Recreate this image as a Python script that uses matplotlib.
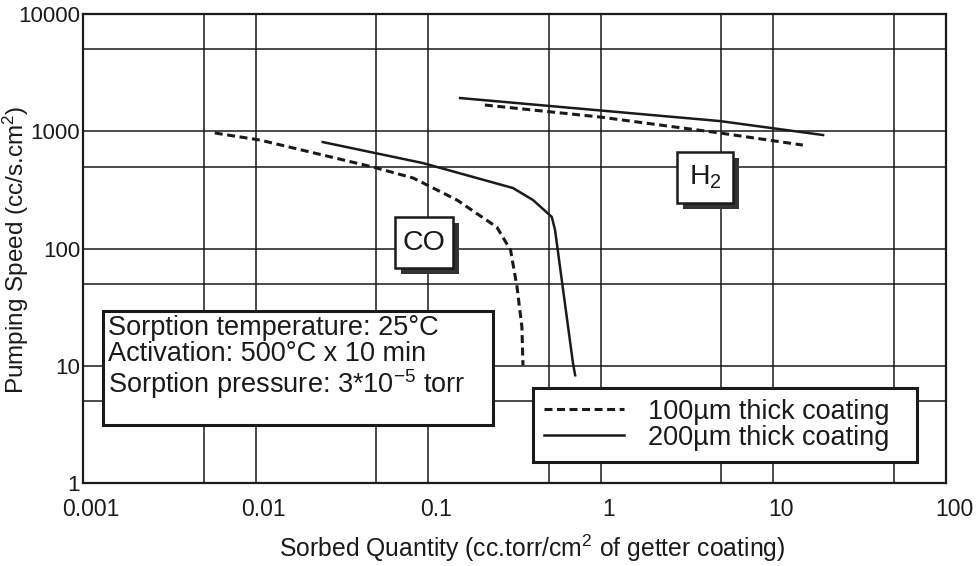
import numpy as np
import matplotlib.pyplot as plt
import matplotlib.transforms as mtransforms
from matplotlib.patches import Rectangle
from matplotlib.ticker import FixedLocator, NullFormatter

plt.rcParams['font.family'] = ['Liberation Sans', 'DejaVu Sans']
plt.rcParams['mathtext.fontset'] = 'custom'
plt.rcParams['mathtext.rm'] = 'Liberation Sans'
plt.rcParams['mathtext.it'] = 'Liberation Sans:italic'

# values
co_100_x = [0.0058, 0.0106, 0.048, 0.082, 0.147, 0.25, 0.30, 0.327, 0.349, 0.354]
co_100_y = [967, 842, 495, 399, 259, 152, 97, 47, 21.4, 10.1]
co_200_x = [0.0245, 0.093, 0.31, 0.405, 0.52, 0.543, 0.69, 0.71]
co_200_y = [809, 536, 328, 259, 186, 144, 10.5, 8.3]
h2_100_x = [0.213, 0.99, 4.9, 14.8]
h2_100_y = [1675, 1323, 967, 763]
h2_200_x = [0.153, 4.9, 19.4]
h2_200_y = [1921, 1222, 929]

x_ticks = [0.001, 0.01, 0.1, 1, 10, 100]
x_ticklabels = ['0.001', '0.01', '0.1', '1', '10', '100']
x_minor = [0.005, 0.05, 0.5, 5, 50]
y_ticks = [1, 10, 100, 1000, 10000]
y_ticklabels = ['1', '10', '100', '1000', '10000']
y_minor = [5, 50, 500, 5000]

legend_labels = ['100\u00b5m thick coating', '200\u00b5m thick coating']
info_text = ('Sorption temperature: 25\u00b0C\n'
             'Activation: 500\u00b0C x 10 min\n'
             'Sorption pressure: 3*10$^{\\mathregular{-5}}$ torr')

ink = '#1a1a1a'
dash = (2.6, 1.5)

fig = plt.figure(figsize=(9.79, 5.66), dpi=100)
ax = fig.add_axes([0.0848, 0.1466, 0.8815, 0.8286])
ax.set_xscale('log')
ax.set_yscale('log')
ax.set_xlim(0.001, 100)
ax.set_ylim(1, 10000)

ax.set_xticks(x_ticks)
ax.set_xticklabels(x_ticklabels)
ax.set_yticks(y_ticks)
ax.set_yticklabels(y_ticklabels)
ax.xaxis.set_minor_locator(FixedLocator(x_minor))
ax.yaxis.set_minor_locator(FixedLocator(y_minor))
ax.xaxis.set_minor_formatter(NullFormatter())
ax.yaxis.set_minor_formatter(NullFormatter())
ax.tick_params(which='both', length=0)
ax.tick_params(axis='x', labelsize=16.5, pad=11, colors=ink)
ax.tick_params(axis='y', labelsize=16, pad=2, colors=ink)
# the scanned labels sit a little right of their grid lines
shift = mtransforms.ScaledTranslation(8 / 100, 0, fig.dpi_scale_trans)
for lab in ax.get_xticklabels():
    lab.set_transform(lab.get_transform() + shift)
ax.grid(True, which='both', color=ink, lw=1.1)
ax.set_axisbelow(True)
for s in ax.spines.values():
    s.set_linewidth(1.6)
    s.set_color(ink)

l100, = ax.plot(co_100_x, co_100_y, color=ink, lw=2.2, ls=(0, dash), zorder=3)
l200, = ax.plot(co_200_x, co_200_y, color=ink, lw=1.8, zorder=3)
ax.plot(h2_100_x, h2_100_y, color=ink, lw=2.2, ls=(0, dash), zorder=3)
ax.plot(h2_200_x, h2_200_y, color=ink, lw=1.8, zorder=3)

ax.set_xlabel('Sorbed Quantity (cc.torr/cm$^{2}$ of getter coating)', fontsize=17.8, va='center', color=ink)
ax.xaxis.set_label_coords(0.5203, -0.1386)
ax.set_ylabel('Pumping Speed (cc/s.cm$^{2}$)', fontsize=17.5, va='center', color=ink)
ax.yaxis.set_label_coords(-0.0775, 0.497)


def shadow_box(x0, y0, w, h, text, size):
    ax.add_patch(Rectangle((x0 + 0.0065, y0 - 0.012), w, h, transform=ax.transAxes,
                           facecolor='#333333', edgecolor='none', zorder=5))
    ax.add_patch(Rectangle((x0, y0), w, h, transform=ax.transAxes,
                           facecolor='white', edgecolor=ink, lw=1.8, zorder=6))
    ax.text(x0 + w / 2, y0 + h / 2, text, transform=ax.transAxes, fontsize=size,
            ha='center', va='center', color=ink, zorder=7)


shadow_box(0.3615, 0.4584, 0.0672, 0.1088, 'CO', 20.5)
shadow_box(0.6883, 0.5970, 0.0649, 0.1088, 'H$_2$', 20.5)

# conditions box
ax.add_patch(Rectangle((0.0232, 0.1237), 0.4519, 0.2430, transform=ax.transAxes,
                       facecolor='white', edgecolor=ink, lw=2.2, zorder=6))
ax.text(0.029, 0.1919, info_text, transform=ax.transAxes, fontsize=19.5,
        ha='left', va='baseline', linespacing=1.0, color=ink, zorder=7)

leg = ax.legend([l100, l200], legend_labels, loc='upper left',
                bbox_to_anchor=(0.5214, 0.0448, 0.445, 0.1578), mode='expand',
                borderaxespad=0, fontsize=19.5,
                handlelength=2.95, handletextpad=0.9, labelspacing=0.0,
                borderpad=0.4, fancybox=False, framealpha=1)
leg.get_frame().set_edgecolor(ink)
leg.get_frame().set_linewidth(2.2)
leg.set_zorder(8)
for t in leg.get_texts():
    t.set_color(ink)

fig.savefig('out.png', dpi=100)
